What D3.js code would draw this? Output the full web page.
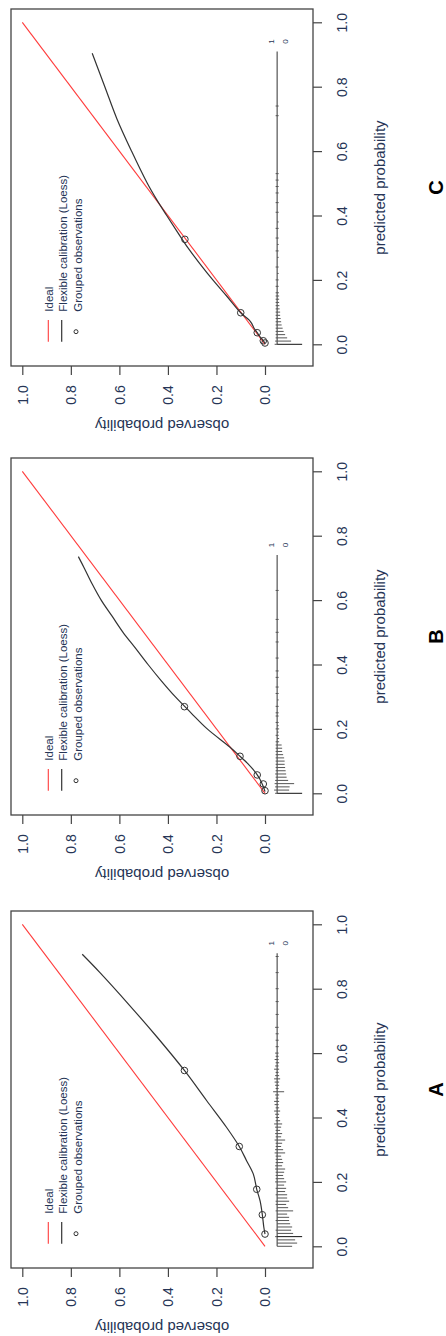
<!DOCTYPE html>
<html>
<head>
<meta charset="utf-8">
<script src="https://cdn.jsdelivr.net/npm/d3@7"></script>
<style>
  body { margin: 0; background: #fff; }
  svg { display: block; }
  text { font-family: "Liberation Sans", Arial, sans-serif; }
</style>
</head>
<body>
<svg id="chart" width="446" height="1336"></svg>
<script>
// ---- data ----
const panelNames = ["C", "B", "A"];
const tickValues = [0, 0.2, 0.4, 0.6, 0.8, 1.0];
const legendLabels = ["Ideal", "Flexible calibration (Loess)", "Grouped observations"];
const idealLine = [0, 1];

// panel C
const loessC_pred = [0.004, 0.012, 0.025, 0.036, 0.05, 0.065, 0.075, 0.085, 0.098, 0.15, 0.2, 0.25, 0.3, 0.35, 0.4, 0.45, 0.5, 0.6, 0.7, 0.8, 0.904];
const loessC_obs  = [0.0, 0.008, 0.022, 0.032, 0.045, 0.055, 0.065, 0.08, 0.1, 0.158, 0.215, 0.268, 0.318, 0.362, 0.405, 0.447, 0.485, 0.55, 0.61, 0.66, 0.712];
const groupsC_pred = [0.004, 0.011, 0.036, 0.098, 0.326];
const groupsC_obs  = [0.0, 0.007, 0.032, 0.100, 0.330];
const spikeC_pred = [0.00, 0.01, 0.02, 0.03, 0.04, 0.05, 0.06, 0.07, 0.08, 0.09, 0.10, 0.11, 0.12, 0.13, 0.14, 0.15, 0.16, 0.18, 0.20, 0.22, 0.24, 0.27, 0.29, 0.31, 0.33, 0.36, 0.38, 0.41, 0.44, 0.47, 0.49, 0.51, 0.53, 0.71, 0.74];
const spikeC_n0   = [100, 56, 40, 32, 26, 22, 18, 16, 14, 12, 12, 10, 9, 8, 8, 8, 7, 6, 6, 6, 6, 6, 6, 6, 6, 6, 6, 6, 6, 6, 6, 6, 6, 6, 6];
const spikeC_n1   = [10, 8, 6, 6, 6, 6, 6, 6, 6, 6, 6, 6, 6, 6, 6, 6, 6, 6, 6, 0, 6, 0, 6, 0, 6, 6, 0, 6, 6, 6, 6, 6, 6, 6, 6];
const rangeC = [0.0, 0.909];

// panel B
const loessB_pred = [0.005, 0.015, 0.03, 0.045, 0.057, 0.075, 0.09, 0.115, 0.143, 0.2, 0.25, 0.3, 0.35, 0.4, 0.45, 0.5, 0.55, 0.6, 0.65, 0.7, 0.735];
const loessB_obs  = [0.0, 0.004, 0.012, 0.022, 0.032, 0.05, 0.068, 0.103, 0.144, 0.238, 0.305, 0.37, 0.428, 0.482, 0.533, 0.585, 0.63, 0.675, 0.712, 0.745, 0.769];
const groupsB_pred = [0.008, 0.029, 0.057, 0.115, 0.269];
const groupsB_obs  = [0.0, 0.007, 0.032, 0.103, 0.332];
const spikeB_pred = [0.00, 0.01, 0.02, 0.03, 0.04, 0.05, 0.06, 0.07, 0.08, 0.09, 0.10, 0.11, 0.12, 0.13, 0.14, 0.15, 0.16, 0.17, 0.18, 0.19, 0.20, 0.21, 0.22, 0.24, 0.25, 0.27, 0.29, 0.31, 0.33, 0.36, 0.38, 0.42, 0.47, 0.50, 0.54, 0.63];
const spikeB_n0   = [100, 48, 50, 68, 44, 38, 36, 34, 32, 30, 30, 28, 24, 20, 20, 18, 8, 8, 6, 6, 8, 6, 6, 6, 6, 6, 6, 6, 6, 6, 6, 6, 6, 6, 6, 6];
const spikeB_n1   = [8, 12, 8, 10, 8, 6, 8, 6, 6, 6, 6, 6, 6, 6, 6, 6, 6, 0, 6, 0, 6, 0, 6, 6, 6, 6, 0, 6, 6, 6, 6, 6, 6, 6, 6, 6];
const rangeB = [0.0, 0.74];

// panel A
const loessA_pred = [0.038, 0.06, 0.098, 0.14, 0.177, 0.224, 0.266, 0.31, 0.369, 0.452, 0.546, 0.65, 0.75, 0.85, 0.907];
const loessA_obs  = [0.0, 0.005, 0.011, 0.02, 0.034, 0.048, 0.076, 0.106, 0.158, 0.24, 0.332, 0.445, 0.56, 0.68, 0.753];
const groupsA_pred = [0.038, 0.098, 0.177, 0.310, 0.546];
const groupsA_obs  = [0.0, 0.011, 0.034, 0.106, 0.332];
const spikeA_pred = [0.00, 0.01, 0.02, 0.03, 0.04, 0.05, 0.06, 0.07, 0.08, 0.09,
                     0.10, 0.11, 0.12, 0.13, 0.14, 0.15, 0.16, 0.17, 0.18, 0.19,
                     0.20, 0.21, 0.22, 0.23, 0.24, 0.25, 0.26, 0.27, 0.28, 0.29,
                     0.30, 0.31, 0.32, 0.33, 0.34, 0.35, 0.36, 0.37, 0.38, 0.39,
                     0.40, 0.41, 0.42, 0.43, 0.44, 0.45, 0.46, 0.47, 0.48, 0.49,
                     0.50, 0.51, 0.52, 0.53, 0.54, 0.55, 0.56, 0.57, 0.58, 0.59,
                     0.60, 0.62, 0.64, 0.66, 0.68, 0.72, 0.76, 0.80, 0.85, 0.90];
const spikeA_n0   = [60, 80, 72, 100, 64, 56, 60, 52, 48, 48,
                     40, 64, 44, 36, 48, 40, 40, 32, 36, 28,
                     36, 28, 24, 28, 32, 20, 24, 20, 16, 32,
                     24, 16, 20, 32, 16, 20, 12, 16, 20, 12,
                     8, 8, 12, 8, 6, 8, 6, 8, 28, 6,
                     8, 8, 12, 8, 6, 8, 6, 8, 6, 6,
                     6, 6, 6, 6, 6, 6, 6, 6, 6, 6];
const spikeA_n1   = [0, 0, 0, 8, 0, 6, 0, 0, 6, 0,
                     0, 6, 0, 6, 6, 0, 6, 0, 6, 0,
                     8, 6, 6, 6, 8, 8, 6, 6, 6, 10,
                     8, 6, 6, 10, 6, 8, 6, 8, 12, 6,
                     6, 8, 12, 6, 10, 12, 6, 8, 16, 6,
                     8, 10, 12, 8, 6, 12, 8, 6, 10, 6,
                     8, 6, 6, 6, 8, 6, 6, 6, 6, 6];
const rangeA = [0.0, 0.91];

const panels = [
  { name: "C", lp: loessC_pred, lo: loessC_obs, gp: groupsC_pred, go: groupsC_obs, sp: spikeC_pred, s0: spikeC_n0, s1: spikeC_n1, range: rangeC },
  { name: "B", lp: loessB_pred, lo: loessB_obs, gp: groupsB_pred, go: groupsB_obs, sp: spikeB_pred, s0: spikeB_n0, s1: spikeB_n1, range: rangeB },
  { name: "A", lp: loessA_pred, lo: loessA_obs, gp: groupsA_pred, go: groupsA_obs, sp: spikeA_pred, s0: spikeA_n0, s1: spikeA_n1, range: rangeA }
];

// ---- layout ----
const panelTops = [9, 458, 911];
const boxLeft = 11, boxW = 302, boxH = 357;
const textColor = "#263556";
const fontFam = '"Liberation Sans", Arial, sans-serif';

const svg = d3.select("#chart");
svg.append("rect").attr("width", 446).attr("height", 1336).attr("fill", "#fff");

const spikeLen = d3.scaleLinear().domain([0, 100]).range([0, 25]);

panels.forEach((p, i) => {
  const top = panelTops[i];
  const bottom = top + boxH;

  // predicted probability runs up the page, observed runs to the left
  const predScale = d3.scaleLinear().domain([0, 1]).range([top + 335.3, top + 13.3]);
  const obsScale = d3.scaleLinear().domain([0, 1]).range([265, 22.3]);

  const g = svg.append("g");

  g.append("rect")
    .attr("x", boxLeft).attr("y", top)
    .attr("width", boxW).attr("height", boxH)
    .attr("fill", "none").attr("stroke", "#444").attr("stroke-width", 1.3);

  // predicted axis (right side)
  const pAxis = g.append("g")
    .attr("transform", `translate(${boxLeft + boxW},0)`)
    .call(d3.axisRight(predScale).tickValues(tickValues).tickFormat(d3.format(".1f")).tickSize(9).tickSizeOuter(0));
  pAxis.select(".domain").remove();
  pAxis.selectAll(".tick line").attr("stroke", "#444").attr("stroke-width", 1.2);
  pAxis.selectAll(".tick text")
    .attr("x", 0).attr("y", 0).attr("dy", "0.35em")
    .attr("text-anchor", "middle")
    .attr("transform", "translate(29,0) rotate(-90)")
    .attr("fill", textColor).attr("font-size", 14).attr("font-family", fontFam);

  // observed axis (bottom)
  const oAxis = g.append("g")
    .attr("transform", `translate(0,${bottom})`)
    .call(d3.axisBottom(obsScale).tickValues(tickValues).tickFormat(d3.format(".1f")).tickSize(9).tickSizeOuter(0));
  oAxis.select(".domain").remove();
  oAxis.selectAll(".tick line").attr("stroke", "#444").attr("stroke-width", 1.2);
  oAxis.selectAll(".tick text")
    .attr("x", 0).attr("y", 0).attr("dy", "0.35em")
    .attr("text-anchor", "middle")
    .attr("transform", "translate(0,29) rotate(-90)")
    .attr("fill", textColor).attr("font-size", 14).attr("font-family", fontFam);

  // axis titles
  g.append("text")
    .attr("transform", `translate(380,${top + boxH / 2}) rotate(-90)`)
    .attr("text-anchor", "middle").attr("dy", "0.35em")
    .attr("font-size", 15).attr("fill", textColor)
    .text("predicted probability");
  g.append("text")
    .attr("transform", `translate(${boxLeft + boxW / 2},${bottom + 59.5}) rotate(180)`)
    .attr("text-anchor", "middle").attr("dy", "0.35em")
    .attr("font-size", 15).attr("fill", textColor)
    .text("observed probability");

  // panel letter
  g.append("text")
    .attr("transform", `translate(436,${top + boxH / 2}) rotate(-90)`)
    .attr("text-anchor", "middle").attr("dy", "0.35em")
    .attr("font-size", 20).attr("font-weight", "bold").attr("fill", "#000")
    .text(p.name);

  // ideal line
  g.append("line")
    .attr("x1", obsScale(idealLine[0])).attr("y1", predScale(idealLine[0]))
    .attr("x2", obsScale(idealLine[1])).attr("y2", predScale(idealLine[1]))
    .attr("stroke", "#ff3b3b").attr("stroke-width", 1.1);

  // loess curve
  const pts = p.lp.map((d, k) => [d, p.lo[k]]);
  const line = d3.line()
    .x(d => obsScale(d[1]))
    .y(d => predScale(d[0]))
    .curve(d3.curveCatmullRom);
  g.append("path")
    .attr("d", line(pts))
    .attr("fill", "none").attr("stroke", "#333").attr("stroke-width", 1.2);

  // grouped observations
  g.selectAll("circle.grp")
    .data(p.gp.map((d, k) => [d, p.go[k]]))
    .join("circle")
    .attr("class", "grp")
    .attr("cx", d => obsScale(d[1]))
    .attr("cy", d => predScale(d[0]))
    .attr("r", 3.3)
    .attr("fill", "none").attr("stroke", "#333").attr("stroke-width", 1);

  // spike histogram of predictions
  const base = obsScale(-0.05);
  g.append("line")
    .attr("x1", base).attr("x2", base)
    .attr("y1", predScale(p.range[0])).attr("y2", predScale(p.range[1]))
    .attr("stroke", "#444").attr("stroke-width", 1.1);
  const spikes = p.sp.map((d, k) => ({ pred: d, n0: p.s0[k], n1: p.s1[k] }));
  g.selectAll("line.s0")
    .data(spikes.filter(d => d.n0 > 0))
    .join("line")
    .attr("class", "s0")
    .attr("x1", base).attr("x2", d => base + spikeLen(d.n0))
    .attr("y1", d => predScale(d.pred)).attr("y2", d => predScale(d.pred))
    .attr("stroke", d => d.n0 >= 90 ? "#111" : "#555").attr("stroke-width", 1);
  g.selectAll("line.s1")
    .data(spikes.filter(d => d.n1 > 0))
    .join("line")
    .attr("class", "s1")
    .attr("x1", base).attr("x2", d => base - spikeLen(d.n1))
    .attr("y1", d => predScale(d.pred)).attr("y2", d => predScale(d.pred))
    .attr("stroke", "#555").attr("stroke-width", 1);
  const labY = predScale(p.range[1]) - 10;
  [["1", -5.6], ["0", 7.7]].forEach(([t, dx]) => {
    g.append("text")
      .attr("transform", `translate(${base + dx},${labY}) rotate(-90)`)
      .attr("text-anchor", "middle").attr("dy", "0.35em")
      .attr("font-size", 8).attr("fill", textColor)
      .text(t);
  });

  // legend (bottom-left of box)
  const legX = [48.3, 61.7, 76];
  g.append("line")
    .attr("x1", legX[0]).attr("x2", legX[0])
    .attr("y1", bottom - 46).attr("y2", bottom - 24.3)
    .attr("stroke", "#ff3b3b").attr("stroke-width", 1.1);
  g.append("line")
    .attr("x1", legX[1]).attr("x2", legX[1])
    .attr("y1", bottom - 46).attr("y2", bottom - 24.3)
    .attr("stroke", "#333").attr("stroke-width", 1.2);
  g.append("circle")
    .attr("cx", legX[2]).attr("cy", bottom - 34.3).attr("r", 2)
    .attr("fill", "none").attr("stroke", "#333").attr("stroke-width", 1);
  const legTextX = [49.3, 63.3, 77.7];
  legendLabels.forEach((lab, k) => {
    g.append("text")
      .attr("transform", `translate(${legTextX[k]},${bottom - 54.3}) rotate(-90)`)
      .attr("text-anchor", "start").attr("dy", "0.35em")
      .attr("font-size", 11.5).attr("fill", textColor)
      .text(lab);
  });
});
</script>
</body>
</html>
